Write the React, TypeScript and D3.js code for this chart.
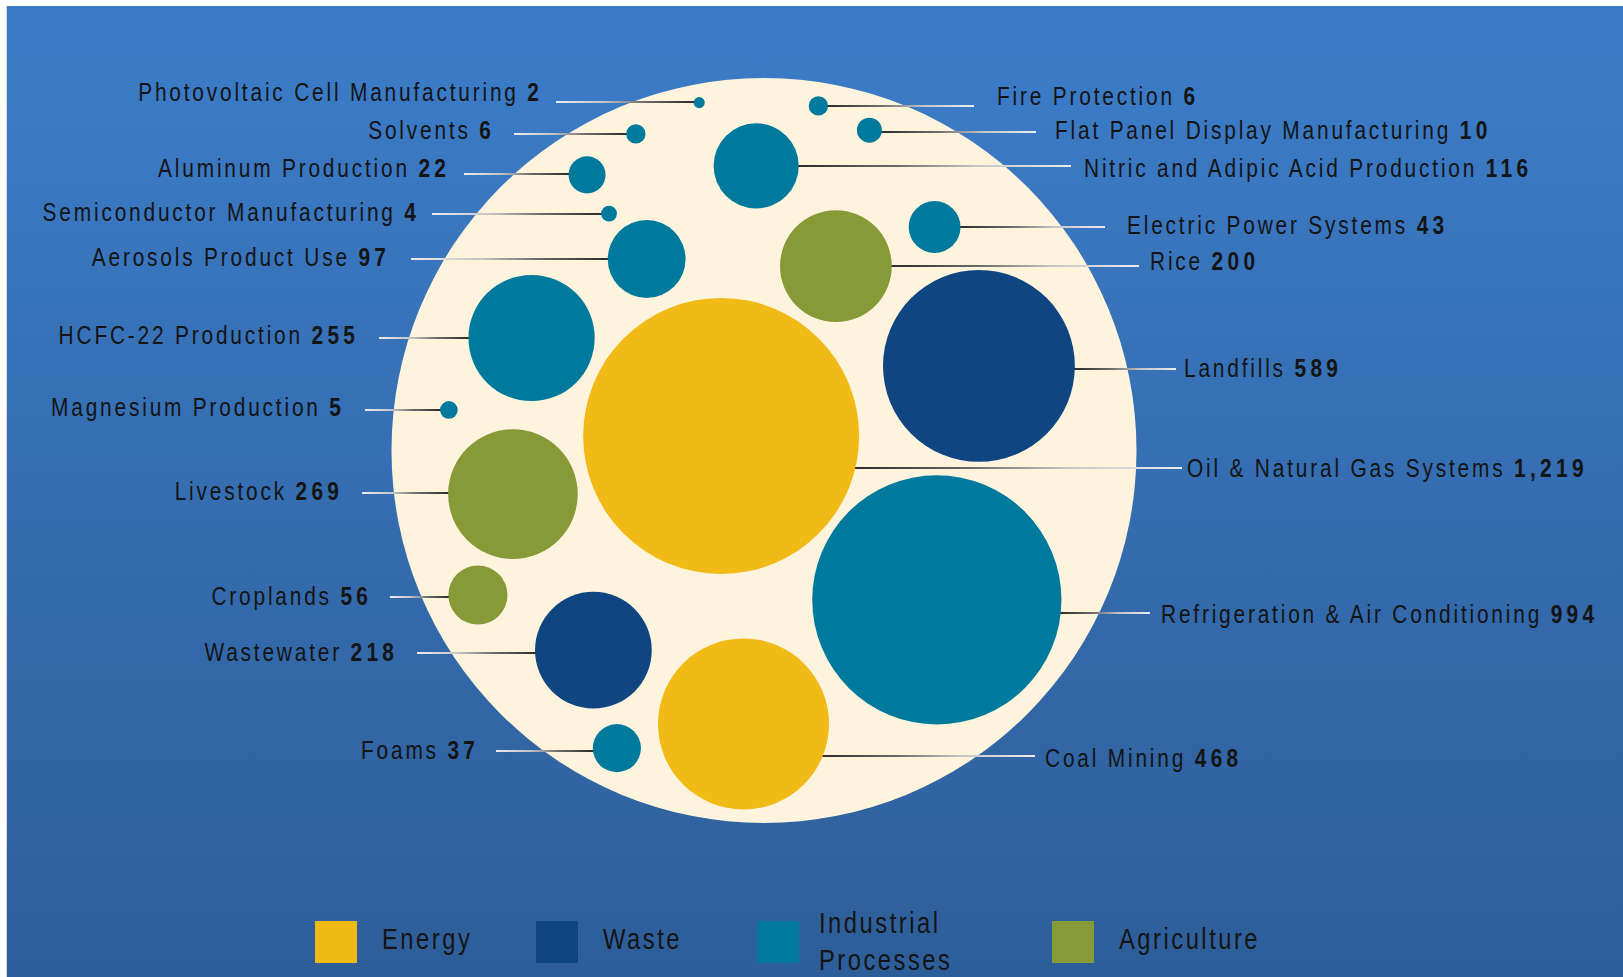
import React, { useEffect } from "react";
import * as d3 from "d3";

// ---------- data ----------
const categories = ["Energy", "Waste", "Industrial Processes", "Agriculture"];
const categoryColors = ["#F1BA16", "#0F4581", "#007A9C", "#889A38"];

const sourceNames = [
  "Oil & Natural Gas Systems",
  "Refrigeration & Air Conditioning",
  "Landfills",
  "Coal Mining",
  "Livestock",
  "HCFC-22 Production",
  "Wastewater",
  "Rice",
  "Nitric and Adipic Acid Production",
  "Aerosols Product Use",
  "Croplands",
  "Electric Power Systems",
  "Foams",
  "Aluminum Production",
  "Flat Panel Display Manufacturing",
  "Fire Protection",
  "Solvents",
  "Magnesium Production",
  "Semiconductor Manufacturing",
  "Photovoltaic Cell Manufacturing",
];
const sourceValues = [1219, 994, 589, 468, 269, 255, 218, 200, 116, 97, 56, 43, 37, 22, 10, 6, 6, 5, 4, 2];
const sourceCategory = [
  "Energy", "Industrial Processes", "Waste", "Energy", "Agriculture", "Industrial Processes",
  "Waste", "Agriculture", "Industrial Processes", "Industrial Processes", "Agriculture",
  "Industrial Processes", "Industrial Processes", "Industrial Processes", "Industrial Processes",
  "Industrial Processes", "Industrial Processes", "Industrial Processes", "Industrial Processes",
  "Industrial Processes",
];

// bubble centres, in units of the enclosing circle's radius
const bubbleX = [-0.115, 0.464, 0.577, -0.055, -0.674, -0.624, -0.458, 0.193, -0.021, -0.315, -0.768, 0.458, -0.395, -0.475, 0.283, 0.146, -0.344, -0.846, -0.416, -0.174];
const bubbleY = [-0.039, 0.401, -0.227, 0.734, 0.117, -0.302, 0.536, -0.495, -0.764, -0.514, 0.388, -0.6, 0.799, -0.74, -0.86, -0.925, -0.85, -0.109, -0.636, -0.934];

// label layout (annotation positions, px)
const labelSide = ["R", "R", "R", "R", "L", "L", "L", "R", "R", "L", "L", "R", "L", "L", "R", "R", "L", "L", "L", "L"];
const labelLineX = [1182, 1150, 1176, 1035, 362, 379, 417, 1139, 1071, 411, 390, 1105, 496, 464, 1036, 974, 514, 365, 432, 556];
const labelLineY = [468, 613, 369, 756, 493, 338, 653, 266, 166, 259, 597, 227, 751, 174, 132, 106, 134, 410, 214, 102];
const labelTextX = [1187, 1161, 1184, 1045, 339, 355, 394, 1150, 1084, 386, 368, 1127, 475, 446, 1055, 997, 491, 341, 416, 539];
const labelTextY = [468, 614, 368, 758, 491, 335, 652, 261, 168, 257, 596, 225, 750, 168, 130, 96, 130, 407, 212, 92];

const legendX = [315, 536, 757, 1052];
const legendLines = [["Energy"], ["Waste"], ["Industrial", "Processes"], ["Agriculture"]];

const W = 1623;
const H = 977;
const FRAME = { cx: 764, cy: 450.5, r: 372.5 };
const NARROW = 0.82; // horizontal squeeze to mimic a narrow typeface
const LS = 2.8; // effective letter spacing of labels
const LS_NUM = 4.3; // effective letter spacing of bold values

export default function App() {
  useEffect(() => {
    document.body.style.margin = "0";
    document.body.style.overflow = "hidden";
  }, []);

  const xs = d3.scaleLinear().domain([-1, 1]).range([FRAME.cx - FRAME.r, FRAME.cx + FRAME.r]);
  const ys = d3.scaleLinear().domain([-1, 1]).range([FRAME.cy - FRAME.r, FRAME.cy + FRAME.r]);
  const rs = d3.scaleSqrt().domain([0, d3.max(sourceValues) as number]).range([0, 138]);
  const color = d3.scaleOrdinal<string, string>().domain(categories).range(categoryColors);
  const fmt = d3.format(",");

  const items = sourceNames.map((name, i) => {
    const cx = xs(bubbleX[i]);
    const cy = ys(bubbleY[i]);
    const r = rs(sourceValues[i]);
    const dy = labelLineY[i] - cy;
    const half = Math.sqrt(Math.max(0, r * r - dy * dy));
    const edge = labelSide[i] === "L" ? cx - half : cx + half;
    return { name, value: sourceValues[i], cat: sourceCategory[i], cx, cy, r, edge, i };
  });

  const labelFont = "'Liberation Sans', Arial, sans-serif";

  return (
    <svg width={W} height={H} style={{ position: "absolute", left: 0, top: 0, display: "block" }}>
      <defs>
        <linearGradient id="bg" x1="0" y1="0" x2="0" y2="1">
          <stop offset="0" stopColor="#3C7DC9" />
          <stop offset="1" stopColor="#2E5E99" />
        </linearGradient>
        {items.map((d) => (
          <linearGradient
            key={d.i}
            id={`lg${d.i}`}
            gradientUnits="userSpaceOnUse"
            x1={d.edge}
            y1={labelLineY[d.i]}
            x2={labelLineX[d.i]}
            y2={labelLineY[d.i]}
          >
            <stop offset="0" stopColor="#2c2c2c" />
            <stop offset="0.35" stopColor="#6a6a6a" />
            <stop offset="0.65" stopColor="#c4c4c4" />
            <stop offset="1" stopColor="#ececec" />
          </linearGradient>
        ))}
      </defs>
      <rect x={0} y={0} width={W} height={H} fill="#ffffff" />
      <rect x={6} y={6} width={W - 6} height={H - 6} fill="#d8d8d8" />
      <rect x={7} y={6} width={W - 7} height={H - 6} fill="url(#bg)" />

      <circle cx={FRAME.cx} cy={FRAME.cy} r={FRAME.r} fill="#FEF4DE" />

      <g>
        {items.map((d) => (
          <line
            key={d.i}
            x1={d.cx}
            y1={labelLineY[d.i]}
            x2={labelLineX[d.i]}
            y2={labelLineY[d.i]}
            stroke={`url(#lg${d.i})`}
            strokeWidth={2}
          />
        ))}
      </g>

      <g>
        {items.map((d) => (
          <circle key={d.i} cx={d.cx} cy={d.cy} r={d.r} fill={color(d.cat)} />
        ))}
      </g>

      <g fontFamily={labelFont} fontSize={25.5} fill="#141414" letterSpacing={LS / NARROW}>
        {items.map((d) => {
          const left = labelSide[d.i] === "L";
          const tx = left ? labelTextX[d.i] + LS_NUM : labelTextX[d.i];
          return (
            <text
              key={d.i}
              transform={`translate(${tx},${labelTextY[d.i]}) scale(${NARROW},1)`}
              dy="0.35em"
              textAnchor={left ? "end" : "start"}
            >
              {d.name}
              {" "}
              <tspan fontWeight="bold" letterSpacing={LS_NUM / NARROW}>{fmt(d.value)}</tspan>
            </text>
          );
        })}
      </g>

      <g fontFamily={labelFont} fontSize={29} fill="#141414" letterSpacing={2.5 / NARROW}>
        {categories.map((c, k) => (
          <g key={c}>
            <rect x={legendX[k]} y={921} width={42} height={42} fill={color(c)} />
            {legendLines[k].map((t, j) => (
              <text
                key={j}
                transform={`translate(${legendX[k] + (legendLines[k].length === 1 ? 67 : 62)},${legendLines[k].length === 1 ? 939 : 923 + j * 37}) scale(${NARROW},1)`}
                dy="0.35em"
              >
                {t}
              </text>
            ))}
          </g>
        ))}
      </g>
    </svg>
  );
}
